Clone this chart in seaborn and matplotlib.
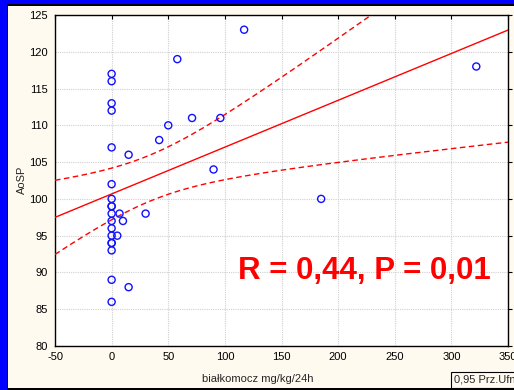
import numpy as np
import pandas as pd
import matplotlib
matplotlib.use("Agg")
import matplotlib.pyplot as plt
from matplotlib.patches import Rectangle
import seaborn as sns

# ---- data ----
proteinuria = [0, 0, 0, 0, 0, 0, 0, 0, 0, 0, 0, 0, 0, 0, 0, 0, 0, 0,
               15, 7, 10, 30, 5, 15, 117, 58, 42, 50, 71, 96, 90, 322, 185]
aosp = [117, 116, 113, 112, 107, 102, 100, 99, 99, 98, 97, 96, 95, 94, 94, 93, 89, 86,
        106, 98, 97, 98, 95, 88, 123, 119, 108, 110, 111, 111, 104, 118, 100]
x_ticks = [-50, 0, 50, 100, 150, 200, 250, 300, 350]
y_ticks = [80, 85, 90, 95, 100, 105, 110, 115, 120, 125]
annotation = "R = 0,44, P = 0,01"
x_label = "białkomocz mg/kg/24h"
y_label = "AoSP"
legend_label = "0,95 Prz.Ufn."

df = pd.DataFrame({"x": proteinuria, "y": aosp})

# linear fit and 95% confidence band of the mean
x = np.asarray(proteinuria, float)
y = np.asarray(aosp, float)
n = len(x)
b, a = np.polyfit(x, y, 1)
resid = y - (a + b * x)
s = np.sqrt(np.sum(resid ** 2) / (n - 2))
xbar = x.mean()
sxx = np.sum((x - xbar) ** 2)
t975 = 2.04
xg = np.linspace(-50, 350, 300)
yg = a + b * xg
hw = t975 * s * np.sqrt(1.0 / n + (xg - xbar) ** 2 / sxx)
fit = pd.DataFrame({"x": xg, "fit": yg, "lo": yg - hw, "hi": yg + hw})

W, H = 514, 390
sns.set_style("white")
plt.rcParams['font.family'] = ['Liberation Sans', 'DejaVu Sans']
fig = plt.figure(figsize=(W / 100, H / 100), dpi=100)
fig.patch.set_facecolor("#0000FF")

def px_rect(x0, y0, x1, y1, **kw):
    # pixel coords from top-left
    fig.patches.append(Rectangle((x0 / W, 1 - y1 / H), (x1 - x0) / W, (y1 - y0) / H,
                                 transform=fig.transFigure, zorder=-10, **kw))

px_rect(7, 4, W + 2, H + 2, facecolor="black", edgecolor="none")
px_rect(8, 6, W + 2, 388, facecolor="#FFFAF0", edgecolor="none")

ax = fig.add_axes([55 / W, 1 - 346 / H, (508 - 55) / W, (346 - 15) / H])
ax.set_facecolor("white")

sns.lineplot(data=fit, x="x", y="fit", ax=ax, color="#FF0000", lw=1.0, zorder=3)
sns.lineplot(data=fit, x="x", y="lo", ax=ax, color="#FF0000", lw=1.0,
             linestyle=(0, (4, 2.5)), zorder=3)
sns.lineplot(data=fit, x="x", y="hi", ax=ax, color="#FF0000", lw=1.0,
             linestyle=(0, (4, 2.5)), zorder=3)
sns.scatterplot(data=df, x="x", y="y", ax=ax, marker="o", s=26,
                facecolor="none", edgecolor="#1010FF", linewidth=1.0, zorder=4)

ax.set_xlim(-50, 350)
ax.set_ylim(80, 125)
ax.set_xticks(x_ticks)
ax.set_yticks(y_ticks)
ax.set_xticklabels([str(v) for v in x_ticks], fontsize=8)
ax.set_yticklabels([str(v) for v in y_ticks], fontsize=8)
ax.grid(True, color="#D0D0D0", linestyle=(0, (1, 1)), linewidth=0.8)
ax.set_axisbelow(True)
for sp in ax.spines.values():
    sp.set_visible(True)
    sp.set_color("black")
    sp.set_linewidth(1.0)
ax.tick_params(axis="x", direction="in", length=3, width=0.8, top=True, pad=4, colors="black")
ax.tick_params(axis="y", direction="out", length=3, width=0.8, right=True, pad=2, colors="black")
ax.set_xlabel("")
ax.set_ylabel("")

fig.text(258 / W, 1 - 379 / H, x_label, ha="center", va="center", fontsize=8)
fig.text(22 / W, 1 - 180 / H, y_label, ha="center", va="center", fontsize=8, rotation=90)
fig.text(364 / W, 1 - 271 / H, annotation, ha="center", va="center", fontsize=22.5,
         fontweight="bold", color="#FF0000", zorder=5)

fig.text(454 / W, 1 - 380 / H, legend_label, ha="left", va="center", fontsize=8,
         bbox=dict(boxstyle="square,pad=0.25", facecolor="#FFFAF0", edgecolor="black", lw=0.8))

fig.savefig("out.png", dpi=100, facecolor=fig.get_facecolor())
